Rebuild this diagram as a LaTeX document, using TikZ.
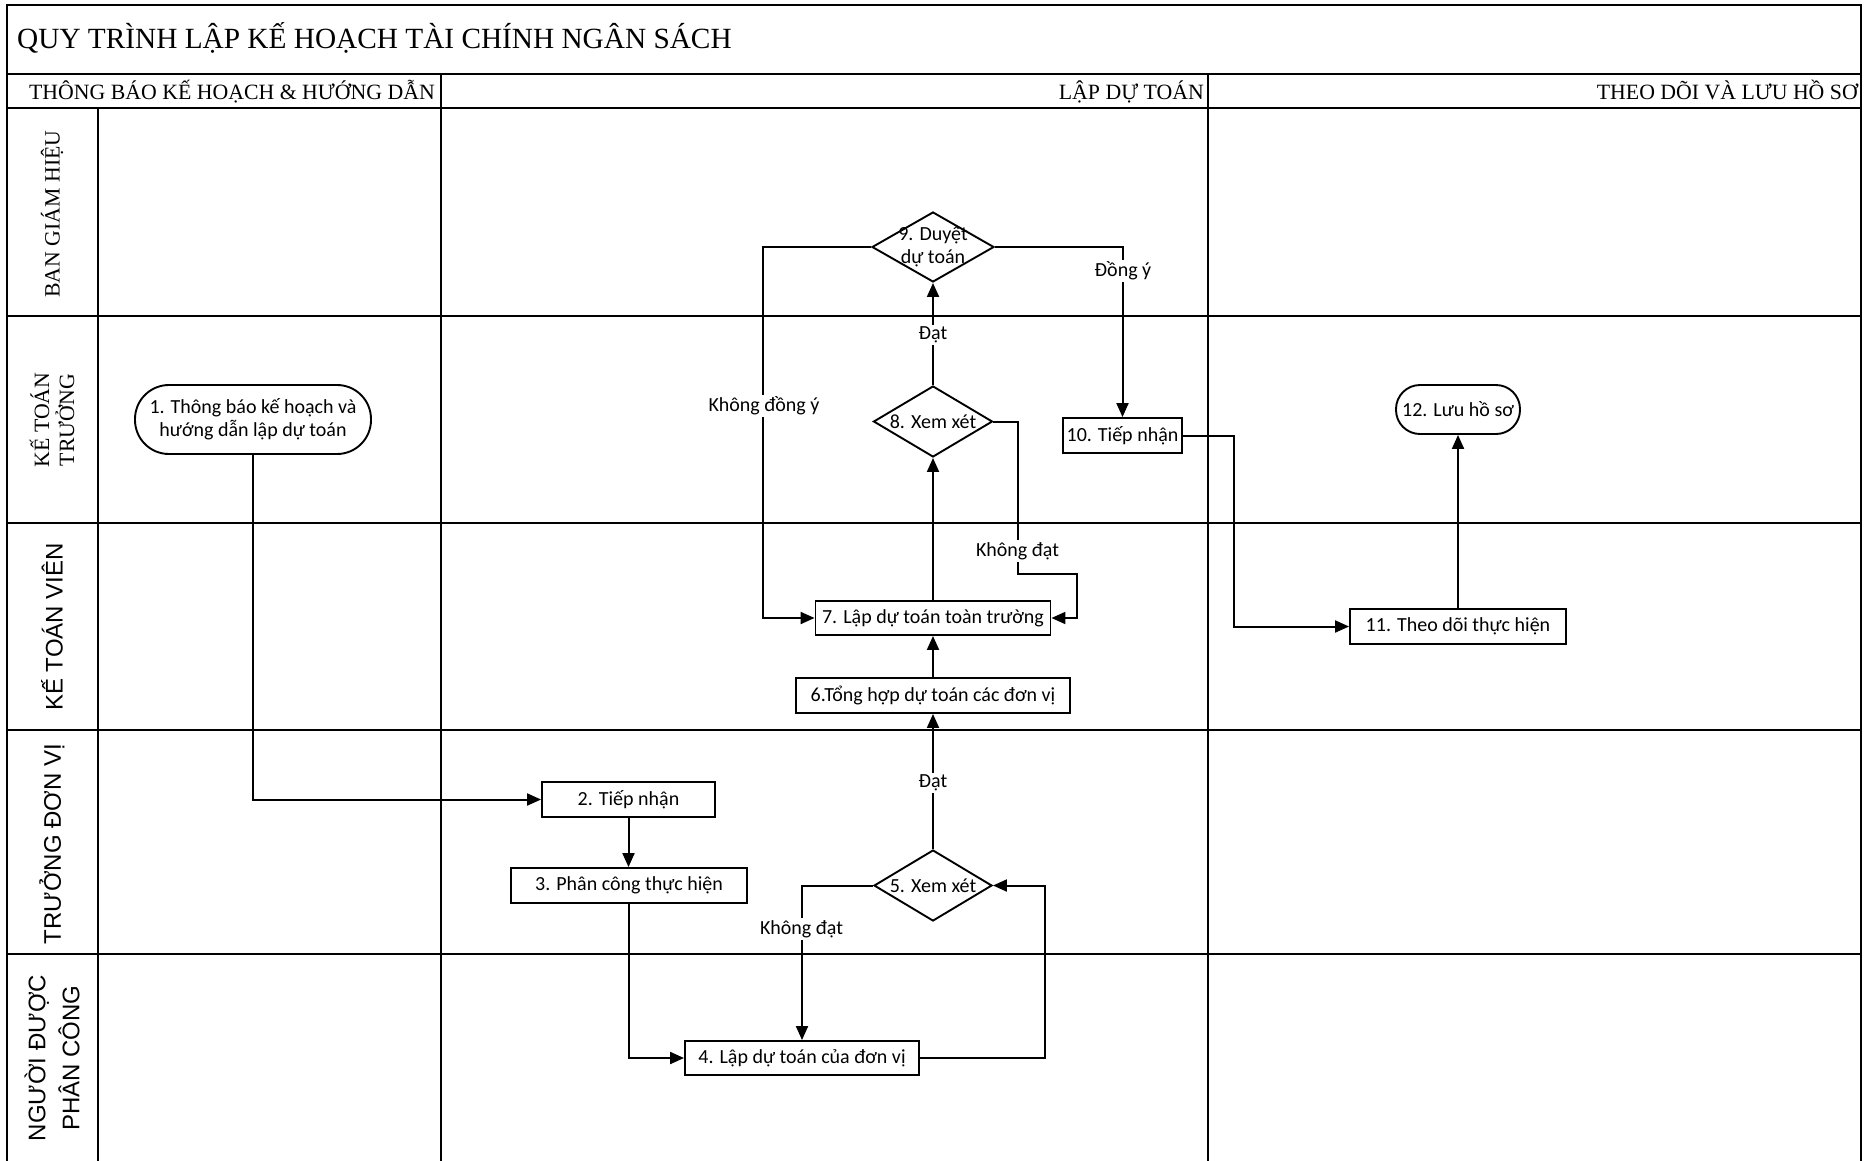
\documentclass[tikz,border=0pt]{standalone}
\usepackage{fontspec}
\setmainfont{Liberation Serif}
\newfontfamily\fcal{Carlito}
\newfontfamily\fsans{Liberation Sans}
\usetikzlibrary{shapes.geometric,arrows.meta}
\begin{document}
\begin{tikzpicture}[x=1pt,y=-1pt,
  frame/.style={line width=2.4pt},
  box/.style={draw, rectangle, line width=1.9pt, inner sep=0pt, align=center,
    font=\fcal\fontsize{20}{23}\selectfont},
  term/.style={box},
  dia/.style={draw, diamond, line width=1.9pt, inner sep=0pt},
  dtxt/.style={inner sep=0pt, align=center, font=\fcal\fontsize{20}{23}\selectfont},
  lbl/.style={fill=white, inner sep=2pt, font=\fcal\fontsize{20}{23}\selectfont},
  arr/.style={line width=2pt, -{Triangle[length=14pt,width=12pt]}},
  serifhd/.style={inner sep=0pt, font=\fontsize{21.8}{25}\selectfont},
  lanes/.style={inner sep=0pt, rotate=90, align=center, font=\fontsize{21.8}{25}\selectfont},
  lanesans/.style={inner sep=0pt, rotate=90, align=center, font=\fsans\fontsize{24}{34}\selectfont}
]
\useasboundingbox (0,0) rectangle (1865,1160);
\fill[white] (0,0) rectangle (1865,1160);

% frame
\draw[frame] (7,1161) -- (7,5) -- (1861,5) -- (1861,1161);
\draw[frame] (7,74) -- (1861,74);
\draw[frame] (7,108) -- (1861,108);
\foreach \yy in {316,523,730,954} \draw[frame] (7,\yy) -- (1861,\yy);
\draw[frame] (98,108) -- (98,1161);
\draw[frame] (441,74) -- (441,1161);
\draw[frame] (1208,74) -- (1208,1161);

% titles
\node[anchor=base west, inner sep=0pt, font=\fontsize{29.3}{34}\selectfont] (title) at (17,48) {QUY TRÌNH LẬP KẾ HOẠCH TÀI CHÍNH NGÂN SÁCH};
\node[serifhd, anchor=base east] (h1) at (435,99.5) {THÔNG BÁO KẾ HOẠCH \& HƯỚNG DẪN};
\node[serifhd, anchor=base east] (h2) at (1204,99.5) {LẬP DỰ TOÁN};
\node[serifhd, anchor=base east] (h3) at (1858,99.5) {THEO DÕI VÀ LƯU HỒ SƠ};

% lane labels
\node[lanes] (l1) at (52,214) {BAN GIÁM HIỆU};
\node[lanes] (l2) at (52,420) {KẾ TOÁN\\TRƯỞNG};
\node[lanesans] (l3) at (52,627) {KẾ TOÁN VIÊN};
\node[lanesans] (l4) at (52,844) {TRƯỞNG ĐƠN VỊ};
\node[lanesans] (l5) at (52,1058) {NGƯỜI ĐƯỢC\\PHÂN CÔNG};

% nodes
\node[term, rounded corners=34pt, minimum width=236pt, minimum height=69pt] (n1) at (253,419.5) {1. Thông báo kế hoạch và\\hướng dẫn lập dự toán};
\node[box, minimum width=173pt, minimum height=35pt] (n2) at (628.5,799.5) {2. Tiếp nhận};
\node[box, minimum width=236pt, minimum height=35pt] (n3) at (629,885.5) {3. Phân công thực hiện};
\node[box, minimum width=234pt, minimum height=34pt] (n4) at (802,1058) {4. Lập dự toán của đơn vị};
\node[dia, minimum width=118pt, minimum height=71pt] (d5) at (933,885.5) {};
\node[dtxt] (t5) at (d5) {5. Xem xét};
\node[box, minimum width=274pt, minimum height=35pt] (n6) at (933,695.5) {6.Tổng hợp dự toán các đơn vị};
\node[box, minimum width=235pt, minimum height=34pt] (n7) at (933,618) {7. Lập dự toán toàn trường};
\node[dia, minimum width=119pt, minimum height=71pt] (d8) at (933,421.5) {};
\node[dtxt] (t8) at (d8) {8. Xem xét};
\node[dia, minimum width=122pt, minimum height=70pt] (d9) at (933,247) {};
\node[dtxt] (t9) at (d9) {9. Duyệt\\dự toán};
\node[box, minimum width=119pt, minimum height=35pt] (n10) at (1122.5,435.5) {10. Tiếp nhận};
\node[box, minimum width=216pt, minimum height=35pt] (n11) at (1458,626.5) {11. Theo dõi thực hiện};
\node[term, rounded corners=24pt, minimum width=124pt, minimum height=49pt] (n12) at (1458,409.5) {12. Lưu hồ sơ};

% connectors
\draw[arr] (n1.south) |- (n2.west);
\draw[arr] (n2.south) -- (n2.south |- n3.north);
\draw[arr] (n3.south) |- (n4.west);
\draw[arr] (n4.east) -- ++(125,0) |- (d5.east);
\draw[arr] (d5.west) -| (n4.north);
\draw[arr] (d5.north) -- (n6.south);
\draw[arr] (n6.north) -- (n7.south);
\draw[arr] (n7.north) -- (d8.south);
\draw[arr] (d8.east) -- ++(25,0) -- ++(0,152.5) -- ++(58.5,0) |- (n7.east);
\draw[arr] (d8.north) -- (d9.south);
\draw[arr] (d9.west) -- ++(-108,0) |- (n7.west);
\draw[arr] (d9.east) -| (n10.north);
\draw[arr] (n10.east) -- ++(51,0) |- (n11.west);
\draw[arr] (n11.north) -- (n12.south);

% connector labels
\node[lbl] (a1) at (801.5,929) {Không đạt};
\node[lbl] (a2) at (933,783) {Đạt};
\node[lbl] (a3) at (1017.5,551) {Không đạt};
\node[lbl] (a4) at (933,335) {Đạt};
\node[lbl] (a5) at (764,406) {Không đồng ý};
\node[lbl] (a6) at (1123,271) {Đồng ý};
\end{tikzpicture}
\end{document}
